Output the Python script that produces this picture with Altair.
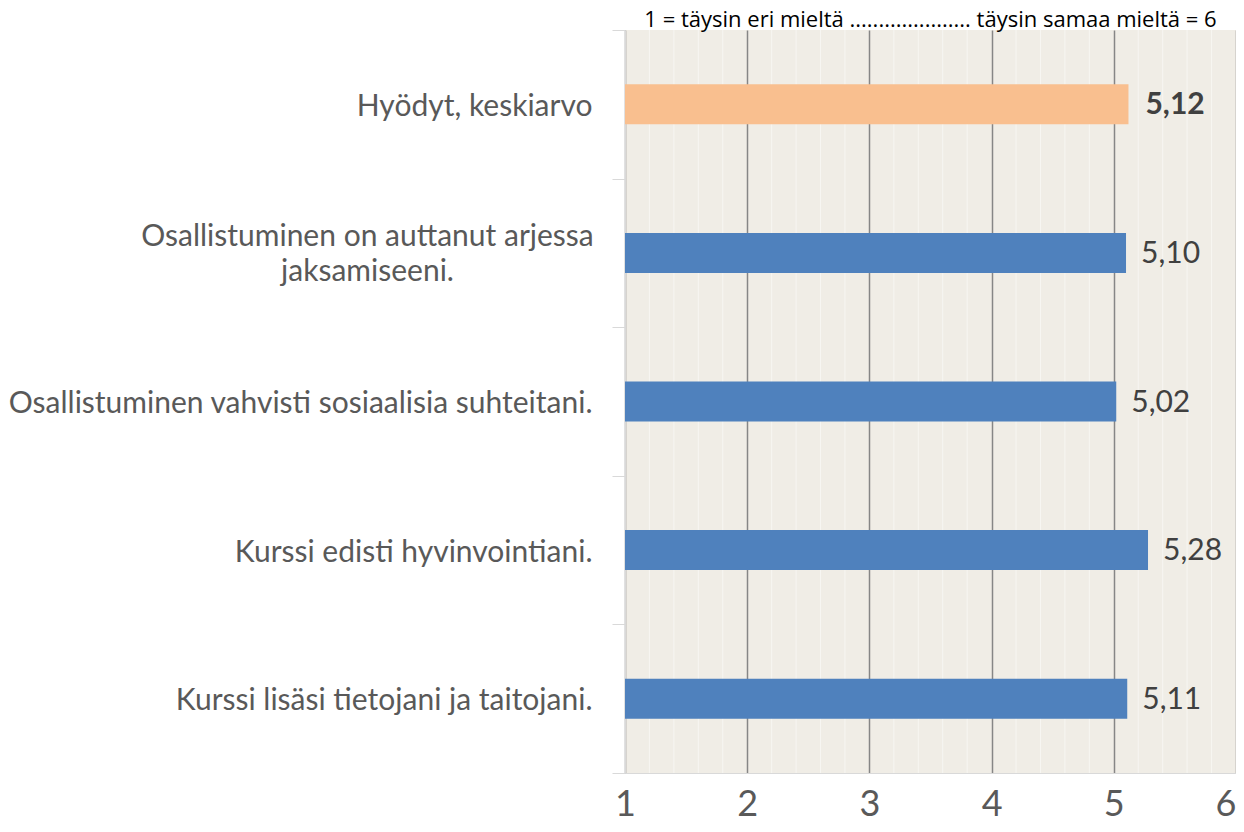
import altair as alt
import pandas as pd

categories = [
    "Hyödyt, keskiarvo",
    "Osallistuminen on auttanut arjessa jaksamiseeni.",
    "Osallistuminen vahvisti sosiaalisia suhteitani.",
    "Kurssi edisti hyvinvointiani.",
    "Kurssi lisäsi tietojani ja taitojani.",
]
values = [5.12, 5.10, 5.02, 5.28, 5.11]
value_labels = ["5,12", "5,10", "5,02", "5,28", "5,11"]
x_ticks = [1, 2, 3, 4, 5, 6]
minor_ticks = [1.2, 1.4, 1.6, 1.8, 2.2, 2.4, 2.6, 2.8, 3.2, 3.4, 3.6, 3.8,
               4.2, 4.4, 4.6, 4.8, 5.2, 5.4, 5.6, 5.8]
scale_min, scale_max = 1, 6
title_text = "1 = täysin eri mieltä ..................... täysin samaa mieltä = 6"
highlight = "Hyödyt, keskiarvo"
wrapped = "Osallistuminen on auttanut arjessa jaksamiseeni."

df = pd.DataFrame({"category": categories, "value": values, "label": value_labels})
df["base"] = scale_min
minor_df = pd.DataFrame({"m": minor_ticks})

FONT = "Lato"
xscale = alt.Scale(domain=[scale_min, scale_max], nice=False, zero=False)

xaxis = alt.Axis(
    title=None,
    values=x_ticks,
    grid=True,
    gridColor="#868686",
    gridWidth=1.5,
    ticks=False,
    domainColor="#D9D9D9",
    domainWidth=1,
    labelFont=FONT,
    labelFontSize=36,
    labelColor="#595959",
    labelPadding=14,
    labelFlush=False,
    labelAlign={"condition": {"test": f"datum.value == {scale_max}", "value": "right"}, "value": "center"},
    format="d",
)

minor = alt.Chart(minor_df).mark_rule(color="#F7F6F2", strokeWidth=1).encode(
    x=alt.X("m:Q", scale=xscale, axis=xaxis)
)

ysort = categories
cond_test = f"datum.value == '{wrapped}'"
yaxis = alt.Axis(
    title=None,
    tickBand="extent",
    tickSize=13,
    tickColor="#D9D9D9",
    tickWidth=1,
    domainColor="#D9D9D9",
    domainWidth=1,
    labelFont=FONT,
    labelFontSize=30,
    labelColor="#595959",
    labelLimit=700,
    labelLineHeight=35,
    labelBaseline="middle",
    labelExpr=f"datum.label == '{wrapped}' ? ['Osallistuminen on auttanut arjessa', 'jaksamiseeni.'] : datum.label",
    labelAlign={"condition": {"test": cond_test, "value": "center"}, "value": "right"},
    labelPadding={"condition": {"test": cond_test, "value": 245}, "value": 20},
    labelOffset={"condition": {"test": cond_test, "value": -16}, "value": 2},
    grid=False,
)

bars = alt.Chart(df).mark_bar(size=40).encode(
    y=alt.Y("category:N", sort=ysort, axis=yaxis, scale=alt.Scale(paddingInner=0, paddingOuter=0)),
    x=alt.X("value:Q", scale=xscale, axis=xaxis),
    x2="base:Q",
    color=alt.condition(alt.datum.category == highlight, alt.value("#F9BF8F"), alt.value("#4F81BD")),
)

texts_bold = alt.Chart(df).transform_filter(alt.datum.category == highlight).mark_text(
    align="left", baseline="middle", dx=17, dy=1, font=FONT, fontSize=30, color="#404040", fontWeight="bold"
).encode(
    y=alt.Y("category:N", sort=ysort),
    x=alt.X("value:Q", scale=xscale),
    text="label:N",
)
texts = alt.Chart(df).transform_filter(alt.datum.category != highlight).mark_text(
    align="left", baseline="middle", dx=15, dy=1, font=FONT, fontSize=30, color="#404040"
).encode(
    y=alt.Y("category:N", sort=ysort),
    x=alt.X("value:Q", scale=xscale),
    text="label:N",
)

chart = alt.layer(minor, bars, texts_bold, texts).properties(
    width=611,
    height=743,
    background="white",
    title=alt.TitleParams(title_text, font="Open Sans", fontSize=22, fontWeight="normal", color="#000000",
                          anchor="middle", offset=-17),
    autosize=alt.AutoSizeParams(type="none"),
    padding={"left": 617, "top": 22, "right": 0, "bottom": 51},
).configure_view(fill="#F0EDE6", strokeWidth=0)

chart.save("out.html", embed_options={"renderer": "svg", "actions": False})
